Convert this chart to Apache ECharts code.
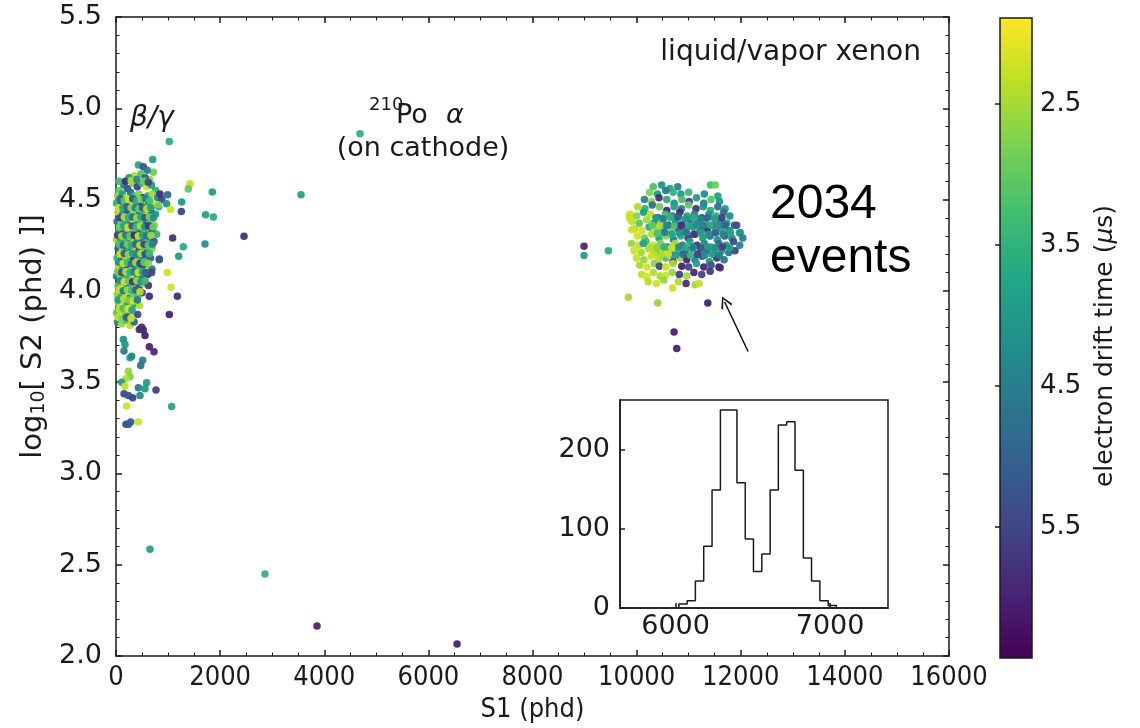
<!DOCTYPE html>
<html><head><meta charset="utf-8">
<script src="https://cdn.jsdelivr.net/npm/echarts@6/dist/echarts.min.js"></script>
<style>html,body{margin:0;padding:0;background:#fff}#c{width:1140px;height:728px}</style>
</head><body><div id="c"></div>
<script>
// [S1 (phd), log10 S2, electron drift time (us)]
const betaGammaEvents = [
[430,4.69,3.7],[525,4.68,5.3],[705,4.72,3.8],[717,4.65,2.9],[600,4.66,4.6],[350,4.63,2.4],[480,4.64,3.1],[250,4.62,4.1],[650,4.61,2.6],[560,4.62,5.0],
[150,4.58,4.4],[320,4.59,2.8],[410,4.57,5.6],[500,4.59,3.4],[590,4.57,2.2],[680,4.58,4.0],[220,4.56,5.2],[760,4.55,3.6],[60,4.55,3.0],
[30,4.52,2.6],[120,4.53,3.9],[200,4.51,2.3],[280,4.54,4.8],[360,4.52,3.3],[440,4.53,2.7],[520,4.51,5.7],[610,4.52,3.8],[690,4.53,2.5],[800,4.51,4.3],[880,4.50,5.5],
[10,4.48,3.5],[90,4.47,5.0],[170,4.49,2.9],[250,4.46,4.5],[330,4.48,2.4],[400,4.47,3.7],[470,4.49,5.9],[550,4.46,3.0],[630,4.48,4.2],[720,4.47,2.2],[820,4.46,3.6],
[40,4.43,2.5],[130,4.42,4.0],[210,4.44,5.4],[290,4.41,3.2],[370,4.43,2.7],[450,4.42,4.7],[530,4.44,3.4],[600,4.41,2.3],[680,4.43,5.1],[760,4.42,3.9],
[20,4.38,4.6],[100,4.37,2.8],[180,4.39,3.6],[260,4.36,5.5],[340,4.38,2.2],[420,4.37,4.1],[500,4.39,3.0],[570,4.36,5.8],[650,4.38,3.3],[740,4.36,2.6],
[50,4.33,3.8],[140,4.32,5.3],[220,4.34,2.5],[300,4.31,4.4],[380,4.33,3.1],[460,4.32,5.0],[540,4.34,2.9],[620,4.31,4.0],[700,4.33,5.6],[780,4.31,3.5],
[10,4.28,2.4],[90,4.27,4.2],[170,4.29,3.3],[250,4.26,5.7],[330,4.28,2.7],[410,4.27,3.9],[490,4.29,4.8],[570,4.26,2.3],[650,4.28,3.6],[730,4.27,5.2],
[40,4.23,5.0],[120,4.22,2.6],[200,4.24,3.7],[280,4.21,4.5],[360,4.23,2.2],[440,4.22,5.5],[520,4.24,3.2],[600,4.21,4.0],[690,4.23,2.8],
[20,4.18,3.4],[100,4.17,4.9],[180,4.19,2.5],[260,4.16,3.9],[340,4.18,5.8],[420,4.17,2.9],[500,4.19,4.3],[580,4.16,3.5],[660,4.18,5.0],[830,4.17,5.3],
[50,4.13,2.3],[130,4.12,3.8],[210,4.14,5.4],[290,4.11,2.7],[370,4.13,4.1],[450,4.12,3.3],[530,4.14,5.6],[610,4.11,2.4],[690,4.12,4.6],
[10,4.08,4.4],[90,4.07,2.6],[170,4.09,3.5],[250,4.06,5.1],[330,4.08,2.3],[410,4.07,3.9],[490,4.09,4.7],[608,4.09,5.6],[685,4.10,5.5],[985,4.10,2.2],
[40,4.03,3.1],[120,4.02,2.4],[200,4.04,4.6],[280,4.01,3.7],[360,4.03,2.8],[440,4.02,5.3],[520,4.04,2.5],[621,4.03,5.7],[1057,4.02,2.2],
[20,3.98,2.5],[100,3.97,3.6],[180,3.99,2.3],[260,3.96,4.8],[340,3.98,2.9],[420,3.97,3.2],[500,3.99,5.5],[640,3.97,5.9],[1178,3.97,5.8],
[50,3.93,2.7],[130,3.92,2.2],[210,3.94,4.1],[290,3.91,2.6],[370,3.93,3.8],[450,3.92,2.4],
[10,3.88,3.0],[90,3.87,2.3],[170,3.89,2.8],[250,3.86,4.4],[330,3.88,2.5],[416,3.87,5.4],[1024,3.87,6.0],
[30,3.83,4.2],[110,3.82,2.6],[190,3.84,3.4],[270,3.81,2.4],[350,3.83,4.9],
[60,4.60,3.3],[180,4.60,5.8],[290,4.605,2.5],[400,4.61,4.3],[540,4.60,2.9],[620,4.595,5.4],
[80,4.505,4.9],[160,4.495,3.1],[240,4.50,2.2],[320,4.505,5.1],[400,4.495,3.6],[480,4.50,2.8],[570,4.505,4.5],[650,4.495,3.2],
[50,4.455,2.2],[130,4.455,3.6],[210,4.46,5.0],[290,4.455,2.7],[370,4.455,4.4],[440,4.45,3.0],[510,4.455,5.2],[590,4.45,2.4],[670,4.455,3.9],
[80,4.40,5.6],[160,4.405,2.4],[240,4.40,3.5],[320,4.405,4.7],[400,4.40,2.6],[480,4.405,3.8],[560,4.40,5.3],[640,4.405,2.9],[720,4.40,4.2],
[70,4.35,2.9],[150,4.355,3.8],[230,4.35,2.3],[310,4.355,5.2],[390,4.35,3.4],[470,4.355,2.5],[550,4.35,4.2],[630,4.355,5.7],[710,4.35,3.0],
[30,4.305,5.5],[110,4.30,2.5],[190,4.305,4.6],[270,4.30,3.0],[350,4.305,5.9],[430,4.30,2.3],[510,4.305,3.7],[590,4.30,4.8],[670,4.305,2.6],
[60,4.255,3.2],[140,4.25,4.7],[220,4.255,2.9],[300,4.25,3.6],[380,4.255,4.9],[460,4.25,2.4],[540,4.255,5.6],[620,4.25,3.1],[700,4.255,4.4],
[80,4.20,2.3],[160,4.205,5.1],[240,4.20,2.7],[320,4.205,3.9],[400,4.20,4.3],[480,4.205,2.5],[560,4.20,5.4],[640,4.205,3.4],
[60,4.155,4.0],[140,4.15,2.3],[220,4.155,3.3],[300,4.15,4.8],[380,4.155,2.6],[460,4.15,5.6],[540,4.155,3.1],[620,4.15,2.7],
[30,4.105,2.8],[110,4.10,5.3],[190,4.105,2.4],[270,4.10,3.6],[350,4.105,4.5],[430,4.10,2.2],[510,4.105,3.8],[570,4.10,5.0],
[80,4.055,4.3],[160,4.05,2.2],[240,4.055,3.0],[320,4.05,5.7],[400,4.055,2.6],[480,4.05,4.0],[560,4.055,3.4],
[60,4.005,2.3],[140,4.00,4.5],[220,4.005,2.6],[300,4.00,3.3],[380,4.005,5.0],[460,3.995,2.4],
[40,3.95,3.9],[150,3.955,2.4],[250,3.95,2.9],[330,3.945,2.2],[410,3.95,4.6],
[60,3.90,2.4],[140,3.905,3.2],[230,3.90,2.2],[310,3.895,3.7],
[40,3.855,2.3],[120,3.85,2.8],[200,3.855,5.1],[290,3.85,2.3],
[448,3.788,5.9],[525,3.785,5.8],[557,3.755,6.0],[493,3.80,5.9],[640,3.694,6.0],[730,3.666,5.9],[141,3.734,4.2],[173,3.706,4.0],[154,3.67,4.5],
[269,3.634,3.8],[301,3.642,4.3],[512,3.62,4.4],[474,3.591,4.8],[237,3.56,2.6],[269,3.53,2.8],[192,3.519,2.4],[110,3.50,3.9],[589,3.497,3.9],
[429,3.469,4.6],[557,3.464,4.0],[768,3.457,5.6],[173,3.478,2.3],[154,3.437,5.4],[237,3.427,5.2],[320,3.415,5.6],[461,3.427,4.2],[205,3.369,2.2],
[1069,3.366,3.7],[192,3.269,5.3],[282,3.282,5.0],[429,3.282,2.2],[240,3.27,5.1],
[1024,4.818,3.6],[1421,4.587,2.3],[1389,4.558,3.0],[1850,4.541,3.9],[845,4.53,5.8],[991,4.527,4.8],[972,4.477,4.2],[1262,4.487,4.0],[1255,4.435,5.5],
[1050,4.445,2.2],[813,4.472,2.8],[1722,4.417,3.8],[1870,4.405,3.6],[2459,4.299,5.8],[1088,4.29,5.8],[1710,4.257,4.2],[1293,4.241,3.6],[1204,4.189,3.9],[832,4.175,5.2]
];
const alphaEvents = [
[10320,4.57,3.2],[10480,4.58,4.1],[10640,4.56,3.7],[10790,4.57,4.4],[11420,4.58,3.3],[11510,4.58,2.9],
[10250,4.54,2.8],[10400,4.53,3.9],[10560,4.55,4.6],[10700,4.54,3.5],[10850,4.53,4.0],[11000,4.54,3.4],[11300,4.53,4.2],[11560,4.52,3.8],
[10150,4.50,4.3],[10290,4.49,2.6],[10430,4.51,5.8],[10580,4.50,3.6],[10720,4.48,4.2],[10870,4.50,3.2],[11010,4.49,5.5],[11150,4.51,3.9],[11290,4.48,4.5],[11430,4.50,3.1],[11590,4.49,4.0],
[10020,4.46,2.4],[10160,4.45,3.5],[10300,4.47,4.8],[10440,4.46,2.9],[10580,4.44,5.9],[10720,4.46,3.8],[10860,4.45,4.4],[11000,4.47,3.0],[11140,4.45,5.7],[11280,4.46,4.1],[11420,4.44,3.6],[11560,4.46,4.7],[11700,4.45,3.9],
[9870,4.42,2.2],[10000,4.41,2.7],[10130,4.43,3.8],[10270,4.42,2.3],[10410,4.40,5.4],[10550,4.42,3.3],[10690,4.41,4.6],[10830,4.43,5.9],[10970,4.41,3.7],[11110,4.42,4.3],[11250,4.40,5.6],[11390,4.42,4.0],[11530,4.41,3.5],[11670,4.43,4.8],[11790,4.41,4.2],
[9910,4.38,2.3],[10050,4.37,3.1],[10190,4.39,2.5],[10330,4.37,4.4],[10470,4.38,2.8],[10610,4.36,5.7],[10750,4.38,4.1],[10890,4.37,3.4],[11030,4.39,5.2],[11170,4.37,4.6],[11310,4.38,3.8],[11450,4.36,5.8],[11590,4.38,4.4],[11730,4.37,4.0],[11880,4.36,5.1],
[9960,4.34,2.4],[10100,4.33,2.2],[10240,4.35,3.6],[10380,4.33,2.6],[10520,4.34,4.0],[10660,4.32,3.0],[10800,4.34,5.5],[10940,4.33,4.3],[11080,4.35,3.9],[11220,4.33,4.7],[11360,4.34,5.9],[11500,4.32,4.2],[11640,4.34,3.7],[11780,4.33,4.5],[11922,4.36,5.3],[11990,4.32,4.1],
[10010,4.30,2.2],[10150,4.29,2.9],[10290,4.31,2.4],[10430,4.29,3.7],[10570,4.30,2.7],[10710,4.28,4.5],[10850,4.30,3.6],[10990,4.29,5.6],[11130,4.31,4.2],[11270,4.29,3.9],[11410,4.30,4.8],[11550,4.28,4.1],[11690,4.30,5.2],[11830,4.29,4.3],[11974,4.317,4.0],[12040,4.29,4.6],
[9900,4.26,2.6],[10040,4.25,2.3],[10180,4.27,3.3],[10320,4.25,2.2],[10460,4.26,2.8],[10600,4.24,3.9],[10740,4.26,2.5],[10880,4.25,4.6],[11020,4.27,3.8],[11160,4.25,5.8],[11300,4.26,4.3],[11440,4.24,3.7],[11580,4.26,4.9],[11720,4.25,4.1],[11860,4.27,5.4],[11980,4.25,4.4],
[9950,4.22,2.2],[10090,4.21,2.5],[10230,4.23,2.4],[10370,4.21,3.1],[10510,4.22,2.3],[10650,4.20,4.8],[10790,4.22,3.4],[10930,4.21,5.6],[11070,4.23,4.1],[11210,4.21,3.6],[11350,4.22,5.1],[11490,4.20,4.5],[11630,4.22,3.9],[11770,4.21,4.7],[11890,4.22,5.5],
[10000,4.18,2.3],[10140,4.17,2.6],[10280,4.19,2.2],[10420,4.17,2.4],[10560,4.18,3.2],[10700,4.16,5.9],[10840,4.18,2.6],[10963,4.171,6.0],[11120,4.17,4.4],[11260,4.19,5.3],[11400,4.16,4.0],[11540,4.18,5.7],[11680,4.17,4.6],
[10060,4.14,2.5],[10200,4.13,2.2],[10340,4.15,2.7],[10438,4.135,5.5],[10560,4.13,2.3],[10700,4.15,2.5],[10867,4.135,6.0],[11000,4.13,5.4],[11150,4.15,3.8],[11290,4.13,5.9],[11430,4.14,5.2],[11580,4.13,5.8],
[10100,4.09,2.3],[10195,4.077,2.2],[10320,4.10,2.4],[10450,4.081,2.5],[10546,4.084,2.2],[10680,4.10,2.6],[10820,4.09,5.6],[10963,4.081,2.5],[11100,4.10,5.9],[11250,4.09,5.5],[11411,4.107,5.7],[11603,4.126,5.9],
[10220,4.05,2.4],[10380,4.04,2.2],[10520,4.06,2.6],[10694,4.016,2.2],[10800,4.05,2.4],[11123,4.034,2.5],[11200,4.04,2.3],[10950,4.04,5.8],
[10370,4.40,3.9],[10510,4.395,4.5],[10650,4.40,3.5],[10800,4.405,5.2],[10940,4.395,4.0],[11080,4.40,3.6],[11220,4.395,4.4],[11360,4.40,4.9],[11500,4.395,3.8],[11640,4.40,5.6],
[10400,4.315,3.2],[10540,4.32,4.6],[10680,4.31,3.8],[10820,4.315,4.1],[10960,4.32,4.7],[11100,4.31,5.7],[11240,4.32,3.9],[11380,4.31,4.2],[11520,4.32,5.0],[11660,4.31,4.4],[11800,4.32,3.8],
[10250,4.24,2.4],[10390,4.235,2.7],[10530,4.24,3.5],[10670,4.235,2.3],[10810,4.24,4.2],[10950,4.235,3.7],[11090,4.24,4.5],[11230,4.235,5.2],[11370,4.24,3.9],[11510,4.235,4.3],[11650,4.24,5.6],[11790,4.235,4.0],
[10300,4.36,3.0],[10440,4.355,2.5],[10580,4.36,4.3],[10720,4.355,3.3],[10860,4.36,5.8],[11000,4.355,3.8],[11140,4.36,4.1],[11280,4.355,4.6],[11420,4.36,3.6],[11560,4.355,4.2],[11700,4.36,5.0],
[10330,4.20,2.3],[10470,4.195,2.5],[10610,4.20,2.2],[10750,4.195,3.9],[10890,4.20,4.8],[11030,4.195,3.5],[11170,4.20,5.5],[11310,4.195,4.2],[11450,4.20,3.8],[11590,4.195,4.6],[10130,4.26,3.8],
[9842,3.965,2.5],[10406,3.934,2.6],[11367,3.934,6.0],[10719,3.774,6.0],[10771,3.684,6.0],
[8990,4.244,5.9],[8990,4.193,3.9],[9458,4.22,3.6],[9862,4.399,2.3],[9906,4.335,2.2]
];
const isolatedEvents = [
[3554,4.527,3.8],[4687,4.86,3.5],[653,2.585,3.8],[2862,2.449,3.5],[3861,2.164,6.0],[6551,2.066,6.0]
];
// inset histogram of S1 for the alpha population
const histEdges = [6021,6075,6128,6182,6236,6290,6343,6397,6451,6504,6558,6612,6665,6719,6773,6827,6880,6934,6988,7041];
const histCounts = [5,9,34,78,149,250,250,158,87,46,68,149,231,235,174,63,34,9,3];
// axis settings
const mainX = {min:0, max:16000, step:2000};
const mainY = {min:2.0, max:5.5, step:0.5};
const colorbarRange = {min:1.89, max:6.43};
const colorbarTicks = [2.5,3.5,4.5,5.5];
const insetXRange = {min:5640, max:7375};
const insetXTicks = [6000,7000];
const insetYRange = {min:0, max:262.5};
const insetYTicks = [0,100,200];
const arrowFrom = [12141,3.668];
const arrowTo = [11691,3.939];

const viridis = ['#440154','#482475','#414487','#355f8d','#2a788e','#21918c','#22a884','#44bf70','#7ad151','#bddf26','#fde725'];
const driftColors = viridis.slice().reverse();

const FONT = 'DejaVu Sans';
const NARROW = '"Liberation Sans Narrow", "DejaVu Sans Condensed", "DejaVu Sans"';
const INK = '#1a1a1a';
const lineSt = {color: INK, width: 1.5};
const plain = v => String(v);

const chart = echarts.init(document.getElementById('c'), null, {renderer: 'canvas'});

const allEvents = betaGammaEvents.concat(alphaEvents, isolatedEvents);
const histLine = [[histEdges[0], 0]];
for (let i = 0; i < histCounts.length; i++) histLine.push([histEdges[i], histCounts[i]]);
histLine.push([histEdges[histEdges.length - 1], 0]);

function mainXAxis(pos, labels) {
  return {
    gridIndex: 0, type: 'value', position: pos, min: mainX.min, max: mainX.max, interval: mainX.step,
    axisLine: {show: true, onZero: false, lineStyle: lineSt},
    axisTick: {show: true, inside: true, length: 6, lineStyle: lineSt},
    minorTick: {show: true, splitNumber: 4, length: 3.5, lineStyle: {color: INK, width: 1}},
    splitLine: {show: false}, minorSplitLine: {show: false},
    axisLabel: labels ? {margin: 8, fontSize: 27, fontFamily: NARROW, color: INK, formatter: plain} : {show: false},
    name: labels ? 'S1 (phd)' : '', nameLocation: 'middle', nameGap: 40,
    nameTextStyle: {fontSize: 27, fontFamily: NARROW, color: INK}
  };
}
function mainYAxis(pos, labels) {
  return {
    gridIndex: 0, type: 'value', position: pos, min: mainY.min, max: mainY.max, interval: mainY.step,
    axisLine: {show: true, onZero: false, lineStyle: lineSt},
    axisTick: {show: true, inside: true, length: 6, lineStyle: lineSt},
    minorTick: {show: true, splitNumber: 5, length: 3.5, lineStyle: {color: INK, width: 1}},
    splitLine: {show: false}, minorSplitLine: {show: false},
    axisLabel: labels ? {margin: 14, fontSize: 27, fontFamily: FONT, color: INK, formatter: v => v.toFixed(1)} : {show: false},
    name: labels ? 'log{sub|10}[ S2 (phd) ]]' : '', nameLocation: 'middle', nameGap: 60,
    nameTextStyle: {fontSize: 29, fontFamily: FONT, color: INK, rich: {sub: {fontSize: 19, fontFamily: FONT, color: INK, padding: [11, 0, 0, 0]}}}
  };
}

const option = {
  animation: false,
  backgroundColor: '#fff',
  grid: [
    {left: 116, top: 17, width: 833, height: 640},
    {left: 620, top: 400, width: 268, height: 208, show: true, backgroundColor: '#fff', borderColor: INK, borderWidth: 1.5},
    {left: 1000, top: 18, width: 32, height: 640}
  ],
  xAxis: [
    mainXAxis('bottom', true),
    mainXAxis('top', false),
    {gridIndex: 1, type: 'value', min: insetXRange.min, max: insetXRange.max,
     axisLine: {show: true, onZero: false, lineStyle: lineSt},
     axisTick: {show: true, inside: true, length: 5, customValues: insetXTicks, lineStyle: lineSt},
     axisLabel: {customValues: insetXTicks, margin: 5, fontSize: 27, fontFamily: FONT, color: INK, formatter: plain},
     splitLine: {show: false}},
    {gridIndex: 2, type: 'value', min: 0, max: 1, show: false}
  ],
  yAxis: [
    mainYAxis('left', true),
    mainYAxis('right', false),
    {gridIndex: 1, type: 'value', min: insetYRange.min, max: insetYRange.max,
     axisLine: {show: true, onZero: false, lineStyle: lineSt},
     axisTick: {show: true, inside: true, length: 5, customValues: insetYTicks, lineStyle: lineSt},
     axisLabel: {customValues: insetYTicks, margin: 10, fontSize: 27, fontFamily: FONT, color: INK, formatter: plain},
     splitLine: {show: false}},
    {gridIndex: 2, type: 'value', position: 'right', min: colorbarRange.min, max: colorbarRange.max, inverse: true,
     axisLine: {show: false},
     axisTick: {show: true, inside: true, length: 5, customValues: colorbarTicks, lineStyle: lineSt},
     axisLabel: {customValues: colorbarTicks, margin: 8, fontSize: 26, fontFamily: FONT, color: INK, formatter: v => v.toFixed(1)},
     splitLine: {show: false}}
  ],
  visualMap: {
    type: 'continuous', show: false, seriesIndex: 0, dimension: 2,
    min: colorbarRange.min, max: colorbarRange.max, inRange: {color: driftColors}
  },
  graphic: [
    {type: 'text', x: 921, y: 53, style: {text: 'liquid/vapor xenon', font: '28px "DejaVu Sans"', fill: INK, textAlign: 'right', textVerticalAlign: 'middle'}},
    {type: 'text', x: 130, y: 119, style: {text: 'β/γ', font: 'italic 28px "DejaVu Sans"', fill: INK, textAlign: 'left', textVerticalAlign: 'middle'}},
    {type: 'text', x: 369, y: 105, style: {text: '210', font: '18px "DejaVu Sans"', fill: INK, textAlign: 'left', textVerticalAlign: 'middle'}},
    {type: 'text', x: 396, y: 116, style: {text: 'Po', font: '27px "DejaVu Sans"', fill: INK, textAlign: 'left', textVerticalAlign: 'middle'}},
    {type: 'text', x: 446, y: 116, style: {text: 'α', font: 'italic 27px "DejaVu Sans"', fill: INK, textAlign: 'left', textVerticalAlign: 'middle'}},
    {type: 'text', x: 423, y: 149, style: {text: '(on cathode)', font: '27px "DejaVu Sans"', fill: INK, textAlign: 'center', textVerticalAlign: 'middle'}},
    {type: 'text', x: 770, y: 205, style: {text: '2034', font: '48px "Liberation Sans"', fill: '#000', textAlign: 'left', textVerticalAlign: 'middle'}},
    {type: 'text', x: 770, y: 259, style: {text: 'events', font: '48px "Liberation Sans"', fill: '#000', textAlign: 'left', textVerticalAlign: 'middle'}},
    {type: 'text', x: 1105, y: 346, rotation: Math.PI / 2,
     style: {text: 'electron drift time ({it|μ}s)', font: '25px "DejaVu Sans"', fill: INK, textAlign: 'center', textVerticalAlign: 'middle',
       rich: {it: {fontSize: 25, fontFamily: FONT, fontStyle: 'italic', fill: INK, color: INK}}}}
  ],
  series: [
    {type: 'scatter', xAxisIndex: 0, yAxisIndex: 0, data: allEvents, symbol: 'circle', symbolSize: 7.5,
     itemStyle: {opacity: 0.95}, z: 3},
    {type: 'scatter', xAxisIndex: 0, yAxisIndex: 0, data: [], silent: true,
     markLine: {silent: true, animation: false, symbol: ['none', 'path://M0,0 L6,10 L4.6,11 L0,2.8 L-4.6,11 L-6,10 Z'], symbolSize: [12, 12],
       lineStyle: {color: '#111', width: 1.5, type: 'solid'}, label: {show: false},
       itemStyle: {color: '#111'},
       data: [[{coord: arrowFrom}, {coord: arrowTo}]]}},
    {type: 'line', xAxisIndex: 2, yAxisIndex: 2, data: histLine, step: 'end', symbol: 'none',
     lineStyle: {color: INK, width: 1.5}, z: 5},
    {type: 'custom', xAxisIndex: 3, yAxisIndex: 3, clip: false, silent: true,
     data: [[0, colorbarRange.min, colorbarRange.max]],
     renderItem: function (params, api) {
       const a = api.coord([0, api.value(1)]);
       const b = api.coord([1, api.value(2)]);
       const stops = driftColors.map((c, i) => ({offset: i / (driftColors.length - 1), color: c}));
       return {type: 'rect',
         shape: {x: Math.min(a[0], b[0]), y: Math.min(a[1], b[1]), width: Math.abs(b[0] - a[0]), height: Math.abs(b[1] - a[1])},
         style: {fill: new echarts.graphic.LinearGradient(0, 0, 0, 1, stops), stroke: INK, lineWidth: 1.5}};
     }}
  ]
};
chart.setOption(option);
</script>
</body></html>
